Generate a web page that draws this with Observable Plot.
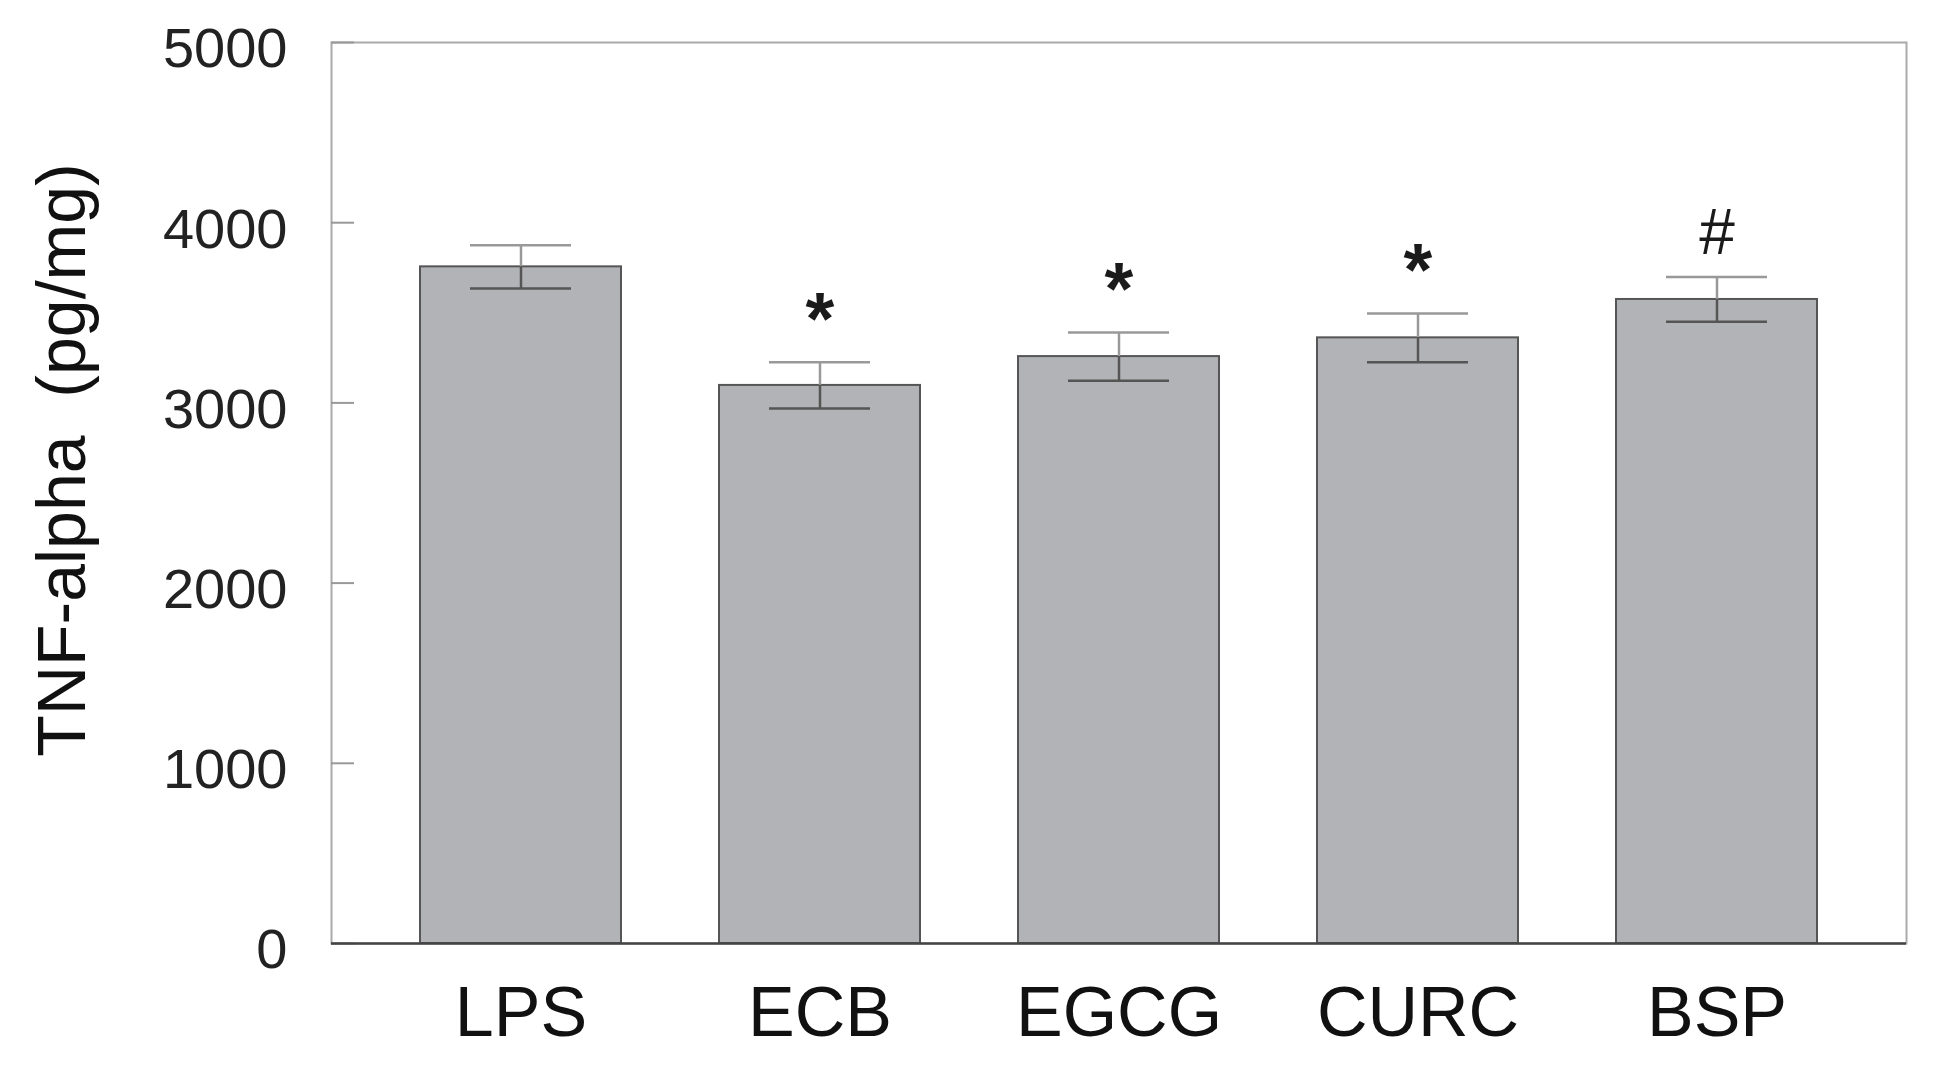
<!DOCTYPE html>
<html>
<head>
<meta charset="utf-8">
<script src="https://cdn.jsdelivr.net/npm/d3@7"></script>
<script src="https://cdn.jsdelivr.net/npm/@observablehq/plot@0.6"></script>
<style>
  html, body { margin: 0; padding: 0; background: #ffffff; }
  #chart svg { display: block; font-family: "Liberation Sans", Arial, Helvetica, sans-serif; }
</style>
</head>
<body>
<div id="chart"></div>
<script>
// ---- data ----
const categories = ["LPS", "ECB", "EGCG", "CURC", "BSP"];
const means = [3755, 3097, 3257, 3361, 3574];
const errors = [120, 128, 134, 135, 124];
const significance = ["", "*", "*", "*", "#"];
const yTicks = [0, 1000, 2000, 3000, 4000, 5000];
const yLabel = "TNF-alpha\u00a0 (pg/mg)";

const rows = categories.map((c, i) => ({
  group: c, mean: means[i], err: errors[i],
  lo: means[i] - errors[i], hi: means[i] + errors[i], sig: significance[i]
}));

const W = 1936, H = 1065;
const mL = 331, mR = 30, mT = 42, mB = 122;
const frameW = W - mL - mR;

const chart = Plot.plot({
  width: W,
  height: H,
  marginLeft: mL,
  marginRight: mR,
  marginTop: mT,
  marginBottom: mB,
  style: { background: "#ffffff", color: "#222", fontFamily: "'Liberation Sans', Arial, sans-serif" },
  x: { domain: categories, paddingInner: 0.329, paddingOuter: 0.294, label: null },
  y: { domain: [0, 5000], ticks: yTicks, label: null },
  marks: [
    Plot.frame({ stroke: "#aaaaaa", strokeWidth: 2 }),
    // inward y ticks
    Plot.ruleY(yTicks, { y: d => d, insetRight: frameW - 23, stroke: "#999", strokeWidth: 2 }),
    Plot.barY(rows, { x: "group", y: "mean", fill: "#b2b3b6", stroke: "#555", strokeWidth: 2 }),
    // error bars: upper part (above bar) lighter, lower part darker
    Plot.ruleX(rows, { x: "group", y1: "mean", y2: "hi", stroke: "#999", strokeWidth: 2.5 }),
    Plot.tickY(rows, { x: "group", y: "hi", insetLeft: 50, insetRight: 50, stroke: "#999", strokeWidth: 2.5 }),
    Plot.ruleX(rows, { x: "group", y1: "lo", y2: "mean", stroke: "#555", strokeWidth: 2.5 }),
    Plot.tickY(rows, { x: "group", y: "lo", insetLeft: 50, insetRight: 50, stroke: "#555", strokeWidth: 2.5 }),
    Plot.ruleY([0], { stroke: "#444", strokeWidth: 2.5 }),
    // significance marks
    Plot.text(rows.filter(d => d.sig === "*"), { x: "group", y: "hi", text: "sig", dy: -42, lineAnchor: "middle", fontSize: 74, fontWeight: "bold", fill: "#1a1a1a" }),
    Plot.text(rows.filter(d => d.sig === "#"), { x: "group", y: "hi", text: "sig", dy: -44, lineAnchor: "middle", fontSize: 64, fill: "#1a1a1a" }),
    // axes
    Plot.axisY(yTicks, { tickSize: 0, tickPadding: 44, fontSize: 56, dy: 7, label: null, fill: "#222", tickFormat: d => String(d) }),
    Plot.axisX({ tickSize: 0, tickPadding: 43, fontSize: 70, label: null, fill: "#111" }),
    // y axis title
    Plot.text([yLabel], { frameAnchor: "left", dx: -268, dy: -33, rotate: -90, textAnchor: "middle", lineAnchor: "middle", fontSize: 68, fill: "#111" })
  ]
});

document.getElementById("chart").appendChild(chart);
</script>
</body>
</html>
